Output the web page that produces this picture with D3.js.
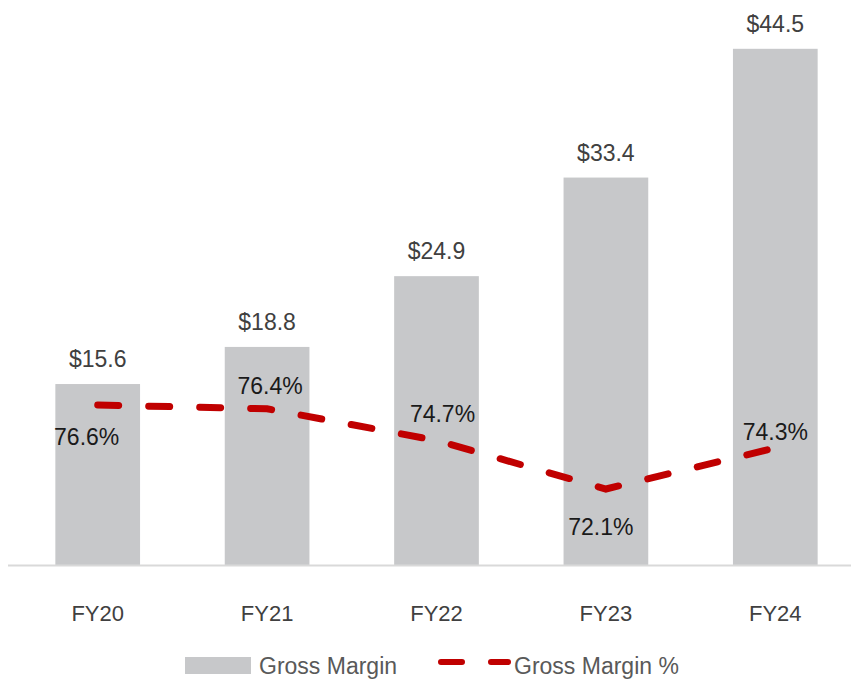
<!DOCTYPE html>
<html>
<head>
<meta charset="utf-8">
<script src="https://cdn.jsdelivr.net/npm/d3@7"></script>
<style>
  html, body { margin: 0; padding: 0; background: #fff; }
  svg { display: block; font-family: "Liberation Sans", Arial, sans-serif; }
</style>
</head>
<body>
<div id="chart"></div>
<script>
// Gross margin ($) bars with gross margin % dashed line

const years = ['FY20', 'FY21', 'FY22', 'FY23', 'FY24'];
const grossMargin = [15.6, 18.8, 24.9, 33.4, 44.5];
const grossMarginPct = [76.6, 76.4, 74.7, 72.1, 74.3];

// where each % label sits relative to its point
const pctLabelOffset = [
  { dx: -11, dy: 40 },
  { dx: 3, dy: -15 },
  { dx: 6, dy: -18 },
  { dx: -5, dy: 46 },
  { dx: 0, dy: -8 },
];

const W = 851;
const H = 681;
const baseY = 565;

const svg = d3.select('#chart')
  .append('svg')
  .attr('width', W)
  .attr('height', H);

const x = d3.scaleBand()
  .domain(years)
  .range([13, 860])
  .paddingInner(0.5)
  .paddingOuter(0.25);

const y = d3.scaleLinear()
  .domain([0, 50])
  .range([baseY, baseY - 580]);

const yPct = d3.scaleLinear()
  .domain([70, 78])
  .range([528.2, 378.9]);

// bars
svg.append('g')
  .selectAll('rect')
  .data(grossMargin)
  .join('rect')
  .attr('x', (d, i) => x(years[i]))
  .attr('y', d => y(d))
  .attr('width', x.bandwidth())
  .attr('height', d => baseY - y(d))
  .attr('fill', '#c7c8ca');

// baseline
svg.append('line')
  .attr('x1', 8)
  .attr('x2', W)
  .attr('y1', baseY + 0.5)
  .attr('y2', baseY + 0.5)
  .attr('stroke', '#d9d9d9')
  .attr('stroke-width', 2);

// bar value labels
svg.append('g')
  .selectAll('text')
  .data(grossMargin)
  .join('text')
  .attr('x', (d, i) => x(years[i]) + x.bandwidth() / 2)
  .attr('y', d => y(d) - 17)
  .attr('text-anchor', 'middle')
  .attr('fill', '#404040')
  .attr('font-size', 23)
  .text(d => '$' + d.toFixed(1));

// dashed % line
const line = d3.line()
  .x((d, i) => x(years[i]) + x.bandwidth() / 2)
  .y(d => yPct(d));

svg.append('path')
  .datum(grossMarginPct)
  .attr('d', line)
  .attr('fill', 'none')
  .attr('stroke', '#c00000')
  .attr('stroke-width', 7)
  .attr('stroke-linecap', 'round')
  .attr('stroke-dasharray', '21,30');

// % labels
svg.append('g')
  .selectAll('text')
  .data(grossMarginPct)
  .join('text')
  .attr('x', (d, i) => x(years[i]) + x.bandwidth() / 2 + pctLabelOffset[i].dx)
  .attr('y', (d, i) => yPct(d) + pctLabelOffset[i].dy)
  .attr('text-anchor', 'middle')
  .attr('fill', '#1a1a1a')
  .attr('font-size', 23)
  .text(d => d.toFixed(1) + '%');

// category axis labels
const xAxis = d3.axisBottom(x).tickSize(0).tickPadding(0);
const ax = svg.append('g')
  .attr('transform', `translate(0, ${baseY})`)
  .call(xAxis);
ax.select('.domain').remove();
ax.selectAll('text')
  .attr('dy', 0)
  .attr('y', 56)
  .attr('fill', '#404040')
  .attr('font-size', 22)
  .attr('font-family', '"Liberation Sans", Arial, sans-serif');

// legend
const lg = svg.append('g');
lg.append('rect')
  .attr('x', 185)
  .attr('y', 657)
  .attr('width', 66)
  .attr('height', 17)
  .attr('fill', '#c7c8ca');
lg.append('text')
  .attr('x', 259)
  .attr('y', 674)
  .attr('fill', '#595959')
  .attr('font-size', 23)
  .text('Gross Margin');
lg.append('line')
  .attr('x1', 441)
  .attr('x2', 508)
  .attr('y1', 662)
  .attr('y2', 662)
  .attr('stroke', '#c00000')
  .attr('stroke-width', 6)
  .attr('stroke-linecap', 'round')
  .attr('stroke-dasharray', '21,29');
lg.append('text')
  .attr('x', 514)
  .attr('y', 674)
  .attr('fill', '#595959')
  .attr('font-size', 23)
  .text('Gross Margin %');
</script>
</body>
</html>
